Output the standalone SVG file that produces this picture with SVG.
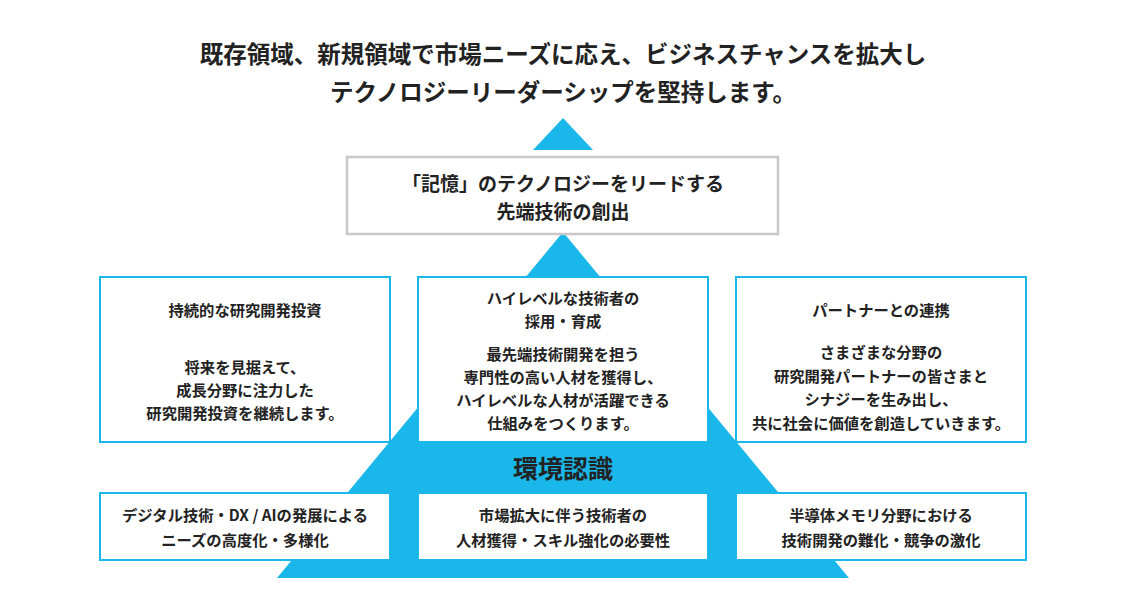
<svg xmlns="http://www.w3.org/2000/svg" width="1126" height="600" viewBox="0 0 1126 600">
<style>
text{font-family:"Noto Sans CJK JP","Noto Sans",sans-serif;font-weight:bold;fill:#222;text-anchor:middle}
.t{font-size:23.5px}.m{font-size:19px}.s{font-size:15.3px}.e{font-size:25px}
.b{fill:#fff;stroke:#1ab8ea;stroke-width:2}
.g{fill:#fff;stroke:#c8c8c8;stroke-width:2.5}
.tri{fill:#1ab8ea}
</style>
<rect width="1126" height="600" fill="#fff"/>
<g id="title"><text class="t" x="563" y="63">既存領域、新規領域で市場ニーズに応え、ビジネスチャンスを拡大し</text>
<text class="t" x="563" y="101">テクノロジーリーダーシップを堅持します。</text></g>
<g id="connectors">
<polygon class="tri" points="563,118 593,150 533,150"/>
<polygon class="tri" points="563,232 849,578 277,578"/>
</g>
<g id="top"><rect class="g" x="347" y="157" width="431" height="77"/>
<text class="m" x="563" y="191">「記憶」のテクノロジーをリードする</text>
<text class="m" x="563" y="219">先端技術の創出</text></g>
<g id="n1"><rect class="b" x="100" y="277" width="290" height="165"/>
<text class="s" x="245" y="316">持続的な研究開発投資</text>
<text class="s" x="245" y="373">将来を見据えて、</text>
<text class="s" x="245" y="396">成長分野に注力した</text>
<text class="s" x="245" y="419">研究開発投資を継続します。</text></g>
<g id="n2"><rect class="b" x="418" y="277" width="290" height="165"/>
<text class="s" x="563" y="304">ハイレベルな技術者の</text>
<text class="s" x="563" y="327">採用・育成</text>
<text class="s" x="563" y="360">最先端技術開発を担う</text>
<text class="s" x="563" y="383">専門性の高い人材を獲得し、</text>
<text class="s" x="563" y="406">ハイレベルな人材が活躍できる</text>
<text class="s" x="563" y="429">仕組みをつくります。</text></g>
<g id="n3"><rect class="b" x="736" y="277" width="290" height="165"/>
<text class="s" x="881" y="316">パートナーとの連携</text>
<text class="s" x="881" y="358">さまざまな分野の</text>
<text class="s" x="881" y="382">研究開発パートナーの皆さまと</text>
<text class="s" x="881" y="405">シナジーを生み出し、</text>
<text class="s" x="881" y="429">共に社会に価値を創造していきます。</text></g>
<text id="env" class="e" x="563" y="478">環境認識</text>
<g id="b1"><rect class="b" x="100" y="493" width="290" height="67"/>
<text class="s" x="245" y="521">デジタル技術・DX / AIの発展による</text>
<text class="s" x="245" y="546">ニーズの高度化・多様化</text></g>
<g id="b2"><rect class="b" x="418" y="493" width="290" height="67"/>
<text class="s" x="563" y="521">市場拡大に伴う技術者の</text>
<text class="s" x="563" y="546">人材獲得・スキル強化の必要性</text></g>
<g id="b3"><rect class="b" x="736" y="493" width="290" height="67"/>
<text class="s" x="881" y="521">半導体メモリ分野における</text>
<text class="s" x="881" y="546">技術開発の難化・競争の激化</text></g>
</svg>
